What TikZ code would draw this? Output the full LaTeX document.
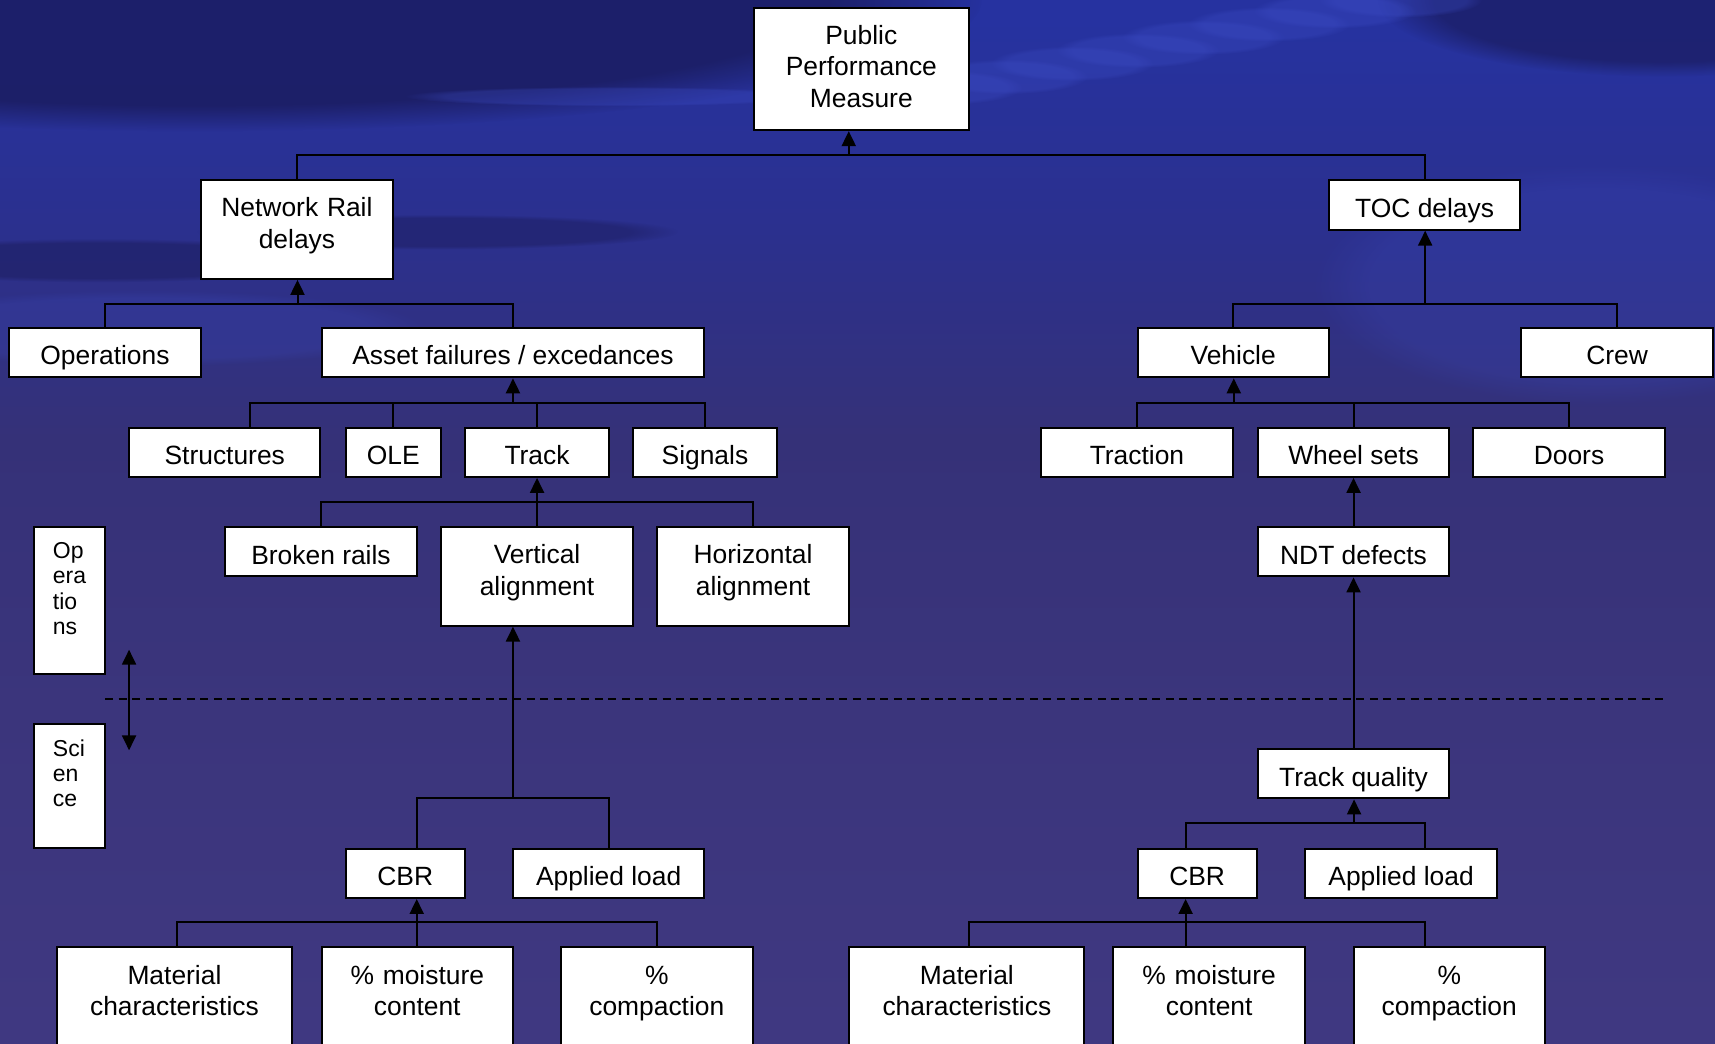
\documentclass[tikz,border=0pt]{standalone}
\usepackage{fontspec}
\setmainfont{Liberation Sans}
\usetikzlibrary{arrows.meta,calc,fadings}

\definecolor{bg0}{RGB}{31,34,112}
\definecolor{bg1}{RGB}{35,48,158}
\definecolor{bg2}{RGB}{38,50,160}
\definecolor{bg3}{RGB}{43,48,142}
\definecolor{bg4}{RGB}{53,49,120}
\definecolor{bg5}{RGB}{59,53,124}
\definecolor{bg6}{RGB}{70,61,137}
\definecolor{navy}{RGB}{24,24,84}
\definecolor{glow}{RGB}{62,78,200}

\pgfdeclareverticalshading{bgshade}{100bp}{color(0bp)=(bg6); color(41bp)=(bg5); color(54bp)=(bg4); color(64bp)=(bg3); color(74bp)=(bg2); color(91bp)=(bg1); color(100bp)=(bg0)}

\tikzset{
  blk/.style={draw=black, fill=white, line width=1pt, inner sep=0pt, align=center,
    font=\fontsize{13.2}{15.9}\selectfont, minimum width=95.7pt, minimum height=24.6pt,
    text height=12.2pt, text depth=0pt},
  two/.style={text width=90pt, text height=10pt, text depth=23pt},
  three/.style={text width=90pt, text height=10pt, text depth=34.8pt},
  low/.style={text width=95pt, text height=10pt, text depth=48.1pt, minimum height=74.9pt},
  side/.style={draw=black, fill=white, line width=1pt, inner sep=0pt, minimum width=35.5pt},
  sidetxt/.style={anchor=north west, align=left, inner sep=0pt, xshift=9.8pt, yshift=-8pt,
    font=\fontsize{11.5}{12.6}\selectfont},
  lnk/.style={line width=1pt},
  arr/.style={line width=1pt, -{Triangle[length=7.5pt,width=7pt]}},
  dbl/.style={line width=1pt, {Triangle[length=7.5pt,width=7pt]}-{Triangle[length=7.5pt,width=7pt]}},
  sep/.style={line width=1pt, dash pattern=on 4pt off 2.8pt},
  blur/.style={path fading=circle with fuzzy edge 20 percent},
}

\begin{document}
\begin{tikzpicture}[x=0.5469pt, y=-0.5469pt]
  \clip (0,0) rectangle (1568,954);
  \shade[shading=bgshade] (0,0) rectangle (1568,954);
  % background waves
  \fill[navy, opacity=.7, blur] (180,0) ellipse (720 and 120);
  \fill[navy, opacity=.6, blur] (1520,0) ellipse (260 and 70);
  \fill[navy, opacity=.45, blur] (90,238) ellipse (230 and 20);
  \fill[navy, opacity=.4, blur] (400,212) ellipse (220 and 16);
  \foreach \cx/\cy in {860/80, 920/70, 980/58, 1040/46, 1100/34, 1160/22, 1220/10, 1280/0}
    \fill[glow, opacity=.3, blur] (\cx,\cy) ellipse (75 and 16);
  \fill[glow, opacity=.3, blur] (560,88) ellipse (190 and 9);
  \fill[glow, opacity=.2, blur] (1460,260) ellipse (260 and 110);
  \fill[glow, opacity=.2, blur] (130,300) ellipse (260 and 35);

  % operations
  \node[blk, three, minimum width=107.7pt, minimum height=61.25pt] (ppm) at (787.5,63) {Public\\Performance\\Measure};
  \node[blk, two, minimum height=49.2pt] (nr) at (271.5,210) {Network Rail\\delays};
  \node[blk] (toc) at (1302.5,187.5) {TOC delays};
  \node[blk] (ops) at (96,322.5) {Operations};
  \node[blk, minimum width=191.4pt] (asset) at (469,322.5) {Asset failures / excedances};
  \node[blk] (veh) at (1127.5,322.5) {Vehicle};
  \node[blk] (crew) at (1478.5,322.5) {Crew};
  \node[blk] (str) at (205.5,413.5) {Structures};
  \node[blk, minimum width=47.6pt] (ole) at (359.5,413.5) {OLE};
  \node[blk, minimum width=71.6pt] (trk) at (491,413.5) {Track};
  \node[blk, minimum width=71.6pt] (sig) at (644.5,413.5) {Signals};
  \node[blk] (trac) at (1039.5,413.5) {Traction};
  \node[blk] (whl) at (1237.5,413.5) {Wheel sets};
  \node[blk] (door) at (1434.5,413.5) {Doors};
  \node[blk] (brk) at (293.5,504.5) {Broken rails};
  \node[blk, two, minimum height=49.2pt] (valn) at (491,527) {Vertical\\alignment};
  \node[blk, two, minimum height=49.2pt] (haln) at (688.5,527) {Horizontal\\alignment};
  \node[blk] (ndt) at (1237.5,504.5) {NDT defects};

  % science
  \node[blk] (tq) at (1237.5,707.5) {Track quality};
  \node[blk, minimum width=59.6pt] (cbrl) at (370.5,798.5) {CBR};
  \node[blk] (apll) at (556.5,798.5) {Applied load};
  \node[blk, minimum width=59.6pt] (cbrr) at (1094.5,798.5) {CBR};
  \node[blk] (aplr) at (1281,798.5) {Applied load};
  \node[blk, low, minimum width=117.6pt] (matl) at (159.5,934.5) {Material\\characteristics};
  \node[blk, low] (moil) at (381.5,934.5) {\% moisture\\content};
  \node[blk, low] (coml) at (600.5,934.5) {\%\\compaction};
  \node[blk, low, minimum width=117.6pt] (matr) at (884,934.5) {Material\\characteristics};
  \node[blk, low] (moir) at (1105.5,934.5) {\% moisture\\content};
  \node[blk, low] (comr) at (1325,934.5) {\%\\compaction};

  % side boxes
  \node[side, minimum height=73.3pt, label={[sidetxt]north west:Op\\era\\tio\\ns}] (opsl) at (63.5,549) {};
  \node[side, minimum height=61.8pt, label={[sidetxt]north west:Sci\\en\\ce}] (scil) at (63.5,718.5) {};
  \coordinate (dtop) at (118,594);
  \coordinate (dbot) at (118,686);
  \draw[dbl] (dtop) -- (dbot);
  \coordinate (sepl) at (96,639);
  \coordinate (sepr) at (1524,639);
  \draw[sep] (sepl) -- (sepr);

  % tree links
  \coordinate (bTop) at (776,142);
  \draw[lnk] (nr.north) |- (bTop) -| (toc.north);
  \draw[arr] (bTop) -- (bTop |- ppm.south);

  \coordinate (bNR) at (272,278);
  \draw[lnk] (ops.north) |- (bNR) -| (asset.north);
  \draw[arr] (bNR) -- (bNR |- nr.south);

  \coordinate (bToc) at (1303,278);
  \draw[lnk] (veh.north) |- (bToc) -| (crew.north);
  \draw[arr] (bToc) -- (bToc |- toc.south);

  \coordinate (bAsset) at (469,368);
  \draw[lnk] ($(str.north)+(23.5,0)$) |- (bAsset) -| (sig.north);
  \draw[lnk] (ole.north) -- (ole.north |- bAsset);
  \draw[lnk] (trk.north) -- (trk.north |- bAsset);
  \draw[arr] (bAsset) -- (asset.south);

  \coordinate (bVeh) at (1128,368);
  \draw[lnk] (trac.north) |- (bVeh) -| (door.north);
  \draw[lnk] (whl.north) -- (whl.north |- bVeh);
  \draw[arr] (bVeh) -- (bVeh |- veh.south);

  \coordinate (bTrk) at (491,459);
  \draw[lnk] (brk.north) |- (bTrk) -| (haln.north);
  \draw[arr] (valn.north) -- (trk.south);

  \draw[arr] (ndt.north) -- (whl.south);
  \draw[arr] (tq.north) -- (ndt.south);

  \coordinate (bValn) at (469,730);
  \draw[lnk] ($(cbrl.north)+(10.5,0)$) |- (bValn) -| (apll.north);
  \draw[arr] (bValn) -- (bValn |- valn.south);

  \coordinate (bCbrL) at (381,843);
  \draw[lnk] ($(matl.north)+(2.5,0)$) |- (bCbrL) -| (coml.north);
  \draw[lnk] (moil.north) -- (moil.north |- bCbrL);
  \draw[arr] (bCbrL) -- (bCbrL |- cbrl.south);

  \coordinate (bTq) at (1238,752);
  \draw[lnk] ($(cbrr.north)+(-10.5,0)$) |- (bTq) -| ($(aplr.north)+(22,0)$);
  \draw[arr] (bTq) -- (bTq |- tq.south);

  \coordinate (bCbrR) at (1084,843);
  \draw[lnk] ($(matr.north)+(2,0)$) |- (bCbrR) -| ($(comr.north)+(-22,0)$);
  \draw[lnk] ($(moir.north)+(-21.5,0)$) -- (bCbrR);
  \draw[arr] (bCbrR) -- (bCbrR |- cbrr.south);
\end{tikzpicture}
\end{document}
